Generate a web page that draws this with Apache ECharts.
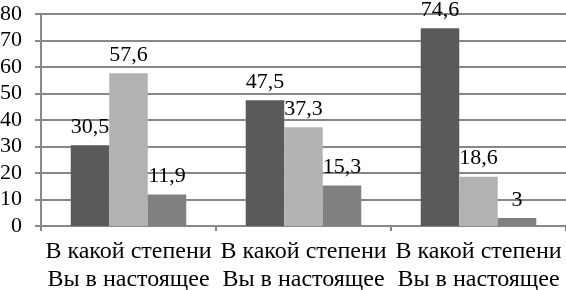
<!DOCTYPE html>
<html>
<head>
<meta charset="utf-8">
<script src="https://cdn.jsdelivr.net/npm/echarts@6/dist/echarts.min.js"></script>
<style>
html, body { margin: 0; padding: 0; background: #fff; }
#chart { width: 566px; height: 290px; }
</style>
</head>
<body>
<div id="chart"></div>
<script>
// данные
var categories = ['В какой степени\nВы в настоящее', 'В какой степени\nВы в настоящее', 'В какой степени\nВы в настоящее'];
var series1 = [30.5, 47.5, 74.6];
var series2 = [57.6, 37.3, 18.6];
var series3 = [11.9, 15.3, 3];
var yTicks = [0, 10, 20, 30, 40, 50, 60, 70, 80];

var font = 'Liberation Serif, Times New Roman, serif';

function fmt(p) {
    return String(p.value).replace('.', ',');
}

function makeSeries(data, color) {
    return {
        type: 'bar',
        data: data,
        barGap: '0%',
        barCategoryGap: '34%',
        itemStyle: { color: color },
        label: {
            show: true,
            position: 'top',
            distance: 7,
            formatter: fmt,
            color: '#000',
            fontFamily: font,
            fontSize: 22
        }
    };
}

var myChart = echarts.init(document.getElementById('chart'));
var option = {
    animation: false,
    backgroundColor: '#fff',
    grid: { left: 41, right: 0, top: 14, bottom: 64, containLabel: false, outerBoundsMode: 'none' },
    xAxis: {
        type: 'category',
        data: categories,
        axisLine: { lineStyle: { color: '#888', width: 2 } },
        axisTick: { show: true, length: 5, lineStyle: { color: '#888', width: 2 } },
        axisLabel: {
            color: '#000',
            fontFamily: font,
            fontSize: 24,
            lineHeight: 28,
            margin: 12,
            interval: 0
        }
    },
    yAxis: {
        type: 'value',
        min: yTicks[0],
        max: yTicks[yTicks.length - 1],
        interval: 10,
        axisLine: { show: true, lineStyle: { color: '#888', width: 2 } },
        axisTick: { show: true, length: 6, lineStyle: { color: '#888', width: 2 } },
        splitLine: { lineStyle: { color: '#888', width: 2 } },
        axisLabel: {
            color: '#000',
            fontFamily: font,
            fontSize: 22,
            margin: 19
        }
    },
    series: [
        makeSeries(series1, '#5a5a5a'),
        makeSeries(series2, '#b2b2b2'),
        makeSeries(series3, '#808080')
    ]
};
myChart.setOption(option);
</script>
</body>
</html>
